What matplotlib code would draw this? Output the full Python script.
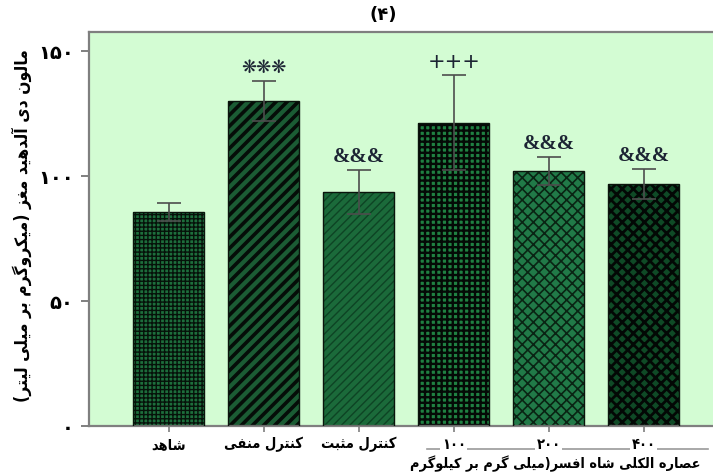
import matplotlib
matplotlib.use("Agg")
import matplotlib.pyplot as plt

# ---------------------------------------------------------------- data
groups = ["شاهد", "کنترل منفی", "کنترل مثبت", "۱۰۰", "۲۰۰", "۴۰۰"]
means = [85.5, 130.0, 93.6, 121.3, 102.1, 96.7]
sems = [3.6, 8.0, 8.8, 19.0, 5.5, 6.0]
marks = ["", "❋❋❋", "&&&", "+++", "&&&", "&&&"]
yticks = [0, 50, 100, 150]
ytick_labels = ["۰", "۵۰", "۱۰۰", "۱۵۰"]
ylabel = "مالون دی آلدهید مغز (میکروگرم بر میلی لیتر)"
group_label = "عصاره الکلی شاه افسر(میلی گرم بر کیلوگرم"
title = "(۴)"

# ---------------------------------------------------------------- Persian shaping
# presentation forms: (isolated, final, initial, medial); None = no left join
FORMS = {
    "ا": ("\uFE8D", "\uFE8E", None, None),
    "آ": ("\uFE81", "\uFE82", None, None),
    "د": ("\uFEA9", "\uFEAA", None, None),
    "ر": ("\uFEAD", "\uFEAE", None, None),
    "ز": ("\uFEAF", "\uFEB0", None, None),
    "و": ("\uFEED", "\uFEEE", None, None),
    "ب": ("\uFE8F", "\uFE90", "\uFE91", "\uFE92"),
    "ت": ("\uFE95", "\uFE96", "\uFE97", "\uFE98"),
    "ث": ("\uFE99", "\uFE9A", "\uFE9B", "\uFE9C"),
    "س": ("\uFEB1", "\uFEB2", "\uFEB3", "\uFEB4"),
    "ش": ("\uFEB5", "\uFEB6", "\uFEB7", "\uFEB8"),
    "ص": ("\uFEB9", "\uFEBA", "\uFEBB", "\uFEBC"),
    "ع": ("\uFEC9", "\uFECA", "\uFECB", "\uFECC"),
    "غ": ("\uFECD", "\uFECE", "\uFECF", "\uFED0"),
    "ف": ("\uFED1", "\uFED2", "\uFED3", "\uFED4"),
    "ل": ("\uFEDD", "\uFEDE", "\uFEDF", "\uFEE0"),
    "م": ("\uFEE1", "\uFEE2", "\uFEE3", "\uFEE4"),
    "ن": ("\uFEE5", "\uFEE6", "\uFEE7", "\uFEE8"),
    "ه": ("\uFEE9", "\uFEEA", "\uFEEB", "\uFEEC"),
    "ی": ("\uFBFC", "\uFBFD", "\uFBFE", "\uFBFF"),
    "ک": ("\uFB8E", "\uFB8F", "\uFB90", "\uFB91"),
    "گ": ("\uFB92", "\uFB93", "\uFB94", "\uFB95"),
}


def shape(text):
    if not any(c in FORMS for c in text):
        return text
    out = []
    for i, c in enumerate(text):
        if c not in FORMS:
            out.append(c)
            continue
        prev = text[i - 1] if i > 0 else None
        nxt = text[i + 1] if i + 1 < len(text) else None
        join_prev = prev in FORMS and FORMS[prev][2] is not None
        join_next = nxt in FORMS and FORMS[c][2] is not None
        iso, fin, ini, med = FORMS[c]
        if join_prev and join_next:
            out.append(med)
        elif join_prev:
            out.append(fin)
        elif join_next:
            out.append(ini)
        else:
            out.append(iso)
    vis = "".join(reversed(out))
    return vis.translate(str.maketrans("()", ")("))


# ---------------------------------------------------------------- styling
plt.rcParams["font.family"] = ["DejaVu Sans"]
plt.rcParams["font.weight"] = "bold"

bg = "#d3fcd3"
faces = ["#1d6e3c", "#1b5c34", "#1b6a3a", "#1f8142", "#217a48", "#0f4a26"]
hatch_cols = ["#06120a", "#050d08", "#0e4424", "#040a06", "#0a2414", "#030805"]
hatches = ["++++", "///", "////", "+++", "xxx", "xxx"]
hatch_lws = [1.0, 2.6, 1.0, 1.7, 1.2, 2.0]

fig = plt.figure(figsize=(7.13, 4.76), dpi=100)
ax = fig.add_axes([0.1248, 0.105, 0.8752, 0.8277])
ax.set_facecolor(bg)

x = list(range(len(groups)))
for i in x:
    plt.rcParams["hatch.linewidth"] = hatch_lws[i]
    b = ax.bar(i, means[i], width=0.75, color=faces[i], edgecolor=hatch_cols[i],
               hatch=hatches[i], linewidth=0, zorder=2)
    for p in b:
        if hasattr(p, "set_hatch_linewidth"):
            p.set_hatch_linewidth(hatch_lws[i])
ax.bar(x, means, width=0.75, fill=False, edgecolor="#0a140c", linewidth=1.0, zorder=3)

ax.errorbar(x, means, yerr=sems, fmt="none", ecolor="#4d4d4d", elinewidth=1.2,
            capsize=8.3, capthick=1.2, zorder=4)

for i in x:
    if not marks[i]:
        continue
    if marks[i].startswith("&"):
        kw = dict(family="Liberation Serif", fontsize=15, fontweight="bold")
    elif marks[i].startswith("+"):
        kw = dict(family="DejaVu Sans", fontsize=15, fontweight="normal")
    else:
        kw = dict(family="DejaVu Sans", fontsize=13, fontweight="bold")
    ax.annotate(marks[i], (i, means[i] + sems[i]), xytext=(0, 9.5),
                textcoords="offset points", ha="center", va="center",
                color="#1c2433", zorder=5, **kw)

ax.set_xlim(-0.84, 5.73)
ax.set_ylim(0, 157.6)

for side in ["left", "top", "bottom"]:
    ax.spines[side].set_color("#7f7f7f")
    ax.spines[side].set_linewidth(1.6)
ax.spines["right"].set_visible(False)

ax.set_yticks(yticks)
ax.set_yticklabels(ytick_labels, fontsize=14, fontweight="bold")
ax.tick_params(axis="y", direction="out", length=6, width=1.4, color="#7f7f7f", pad=5)
ax.set_xticks(x)
ax.set_xticklabels([shape(g) for g in groups], fontsize=10.5, fontweight="bold",
                   fontstretch="condensed")
ax.tick_params(axis="x", direction="out", length=4, width=1.2, color="#7f7f7f", pad=4)
for lab in ax.get_xticklabels():
    lab.set_bbox(dict(facecolor="white", edgecolor="none", pad=1.0))

# bracket line under the dose groups
ax.plot([2.72, 5.68], [-9.2, -9.2], color="#9a9a9a", lw=1.2, clip_on=False, zorder=0.5)
ax.text(4.07, -15.0, shape(group_label), ha="center", va="center", fontsize=10.4,
        fontweight="bold", fontstretch="condensed", clip_on=False)

fig.text(0.031, 0.527, shape(ylabel), rotation=90, ha="center", va="center",
         fontsize=12.5, fontweight="bold", fontstretch="condensed")
fig.text(0.537, 0.968, title, ha="center", va="center", fontsize=13, fontweight="bold")

fig.savefig("out.png", dpi=100, facecolor="white")
